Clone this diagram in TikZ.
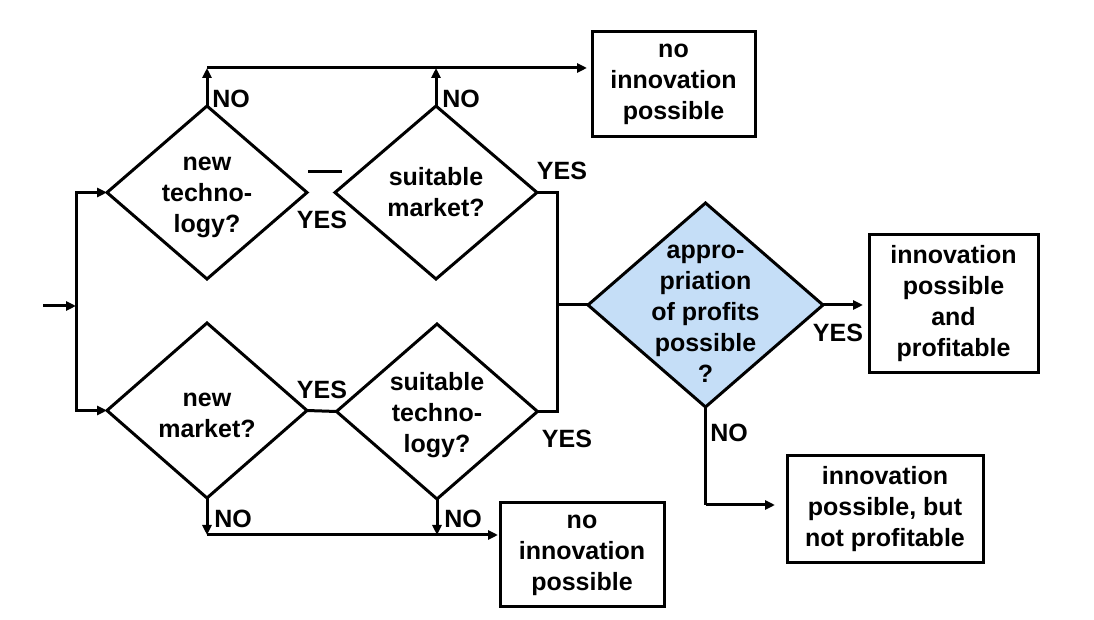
\documentclass[tikz,border=0pt]{standalone}
\usepackage{fontspec}
\setmainfont{Liberation Sans}
\usetikzlibrary{shapes.geometric,arrows.meta,calc}
\definecolor{qblue}{RGB}{197,222,247}
\begin{document}
\begin{tikzpicture}[x=0.5pt,y=-0.5pt,
  font=\bfseries\fontsize{12.5pt}{15.5pt}\selectfont,
  line width=1.5pt,
  arr/.style={-{Triangle[length=5pt,width=4.5pt]}},
  dia/.style={draw,shape=diamond,inner sep=0pt,outer sep=0pt,line width=1.5pt},
  txt/.style={align=center,inner sep=0pt},
  endbox/.style={draw,rectangle,inner sep=0pt,outer sep=0pt,align=center,line width=1.5pt},
  lab/.style={inner sep=0pt}]
\useasboundingbox (0,0) rectangle (1094,620);
% decision diamonds
\node[dia,minimum width=100pt,minimum height=86.5pt,label={[txt,yshift=-2.5pt]center:{new\\techno-\\logy?}}] (d1) at (207,192.5) {};
\node[dia,minimum width=101pt,minimum height=86.5pt,label={[txt]center:{suitable\\market?}}] (d2) at (436,192.5) {};
\node[dia,minimum width=100pt,minimum height=87.5pt,label={[txt,yshift=-2.5pt]center:{new\\market?}}] (d3) at (207,410.5) {};
\node[dia,minimum width=100.5pt,minimum height=87.5pt,label={[txt,yshift=-2pt]center:{suitable\\techno-\\logy?}}] (d4) at (437,411.5) {};
\node[dia,fill=qblue,minimum width=117.5pt,minimum height=102pt,label={[txt,yshift=-4.5pt]center:{appro-\\priation\\of profits\\possible\\?}}] (dq) at (705.5,305) {};
% outcome boxes
\node[endbox,minimum width=81.5pt,minimum height=52.5pt] (b1) at (673.5,84.5) {no\\innovation\\possible};
\node[endbox,minimum width=82pt,minimum height=52pt] (b2) at (582,555) {no\\innovation\\possible};
\node[endbox,minimum width=84.5pt,minimum height=69pt] (b3) at (953.5,304) {innovation\\possible\\and\\profitable};
\node[endbox,minimum width=98pt,minimum height=53.5pt] (b4) at (885,509.5) {innovation\\possible, but\\not profitable};
% helper coordinates
\coordinate (start) at (43,306);
\coordinate (split) at (76,306);
\coordinate (topline) at (207,68);
\coordinate (botline) at (207,535);
\coordinate (join) at (557,305);
\coordinate (nobend) at (705.5,505);
% entry
\draw[arr] (start) -- (split);
\draw[arr] (split) |- (d1.west);
\draw[arr] (split) |- (d3.west);
% top NO branch
\draw[arr] (d1.north) -- (d1.north |- topline);
\draw[arr] (d2.north) -- (d2.north |- topline);
\draw[arr,shorten >=2.5pt] (topline) -- (topline -| b1.west);
% short stroke between d1 and d2
\draw ($(d1.east)+(1,-21)$) -- ($(d2.west)+(7,-21)$);
% bottom NO branch
\draw[arr] (d3.south) -- (botline);
\draw[arr] (d4.south) -- (d4.south |- botline);
\draw[arr,shorten >=1pt] (botline) -- (botline -| b2.west);
% YES connections
\draw (d3.east) -- (d4.west);
\draw (d2.east) -- (d2.east -| join) |- (d4.east);
\draw (join) -- (dq.west);
\draw[arr,shorten >=3pt] (dq.east) -- (dq.east -| b3.west);
\draw (dq.south) -- (nobend);
\draw[arr,shorten >=6pt] (nobend) -- (nobend -| b4.west);
% labels
\node[lab] (l1) at (231,99) {NO};
\node[lab] (l2) at (461,99) {NO};
\node[lab] (l3) at (322,220) {YES};
\node[lab] (l4) at (562,171) {YES};
\node[lab] (l5) at (322,390) {YES};
\node[lab] (l6) at (567,439) {YES};
\node[lab] (l7) at (233,519) {NO};
\node[lab] (l8) at (463,519) {NO};
\node[lab] (l9) at (838,333) {YES};
\node[lab] (l10) at (729,433) {NO};
\end{tikzpicture}
\end{document}
